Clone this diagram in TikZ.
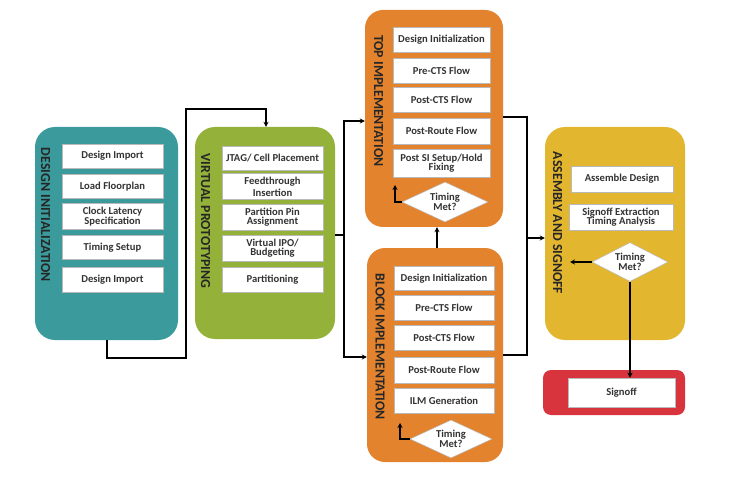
\documentclass[tikz,border=0pt]{standalone}
\usepackage{fontspec}
\setmainfont{Carlito}
\usetikzlibrary{shapes.geometric,arrows.meta}
\definecolor{cteal}{HTML}{3B9A9C}
\definecolor{cgreen}{HTML}{94B23A}
\definecolor{corange}{HTML}{E4832E}
\definecolor{cyellow}{HTML}{E3B630}
\definecolor{cred}{HTML}{D8343E}
\definecolor{ctext}{HTML}{333333}
\tikzset{
  stage/.style={rounded corners=20pt, draw=none},
  ibox/.style={draw=gray!55, fill=white, line width=0.5pt, align=center,
    font=\bfseries\fontsize{10.6}{9.5}\selectfont, text=ctext, inner sep=1pt},
  dbox/.style={diamond, draw=gray!55, fill=white, line width=0.5pt, align=center,
    font=\bfseries\fontsize{10.6}{9.5}\selectfont, text=ctext, inner sep=1pt, aspect=2.2},
  ttl/.style={rotate=-90, font=\bfseries\fontsize{13.8}{14}\selectfont, text=black!85},
  conn/.style={draw=black, line width=1.3pt},
  arr/.style={conn, -{Stealth[length=5pt,width=5pt]}},
}
\begin{document}
\begin{tikzpicture}[x=1pt,y=-1pt]
\useasboundingbox (0,0) rectangle (730,478);
% stage boxes
\path[stage, fill=cteal] (35,127) rectangle (178,340);
\node[inner sep=0, minimum width=143pt, minimum height=213pt] (di) at (106.5,233.5) {};
\path[stage, fill=cgreen] (195,127) rectangle (335,339);
\node[inner sep=0, minimum width=140pt, minimum height=212pt] (vp) at (265,233) {};
\path[stage, fill=corange, rounded corners=18pt] (365,10) rectangle (503,227);
\node[inner sep=0, minimum width=138pt, minimum height=217pt] (top) at (434,118.5) {};
\path[stage, fill=corange, rounded corners=18pt] (367,248) rectangle (503,462);
\node[inner sep=0, minimum width=136pt, minimum height=214pt] (blk) at (435,355) {};
\path[stage, fill=cyellow] (545,127) rectangle (685,340);
\node[inner sep=0, minimum width=140pt, minimum height=213pt] (asm) at (615,233.5) {};
\path[stage, fill=cred, rounded corners=8pt] (543,370) rectangle (685,415);
\node[inner sep=0, minimum width=142pt, minimum height=45pt] (so) at (614,392.5) {};

% titles
\node[ttl] (dit) at (45.5,215) {DESIGN INITIALIZATION};
\node[ttl] (vpt) at (205.5,221) {VIRTUAL PROTOTYPING};
\node[ttl] (topt) at (378.5,101) {TOP IMPLEMENTATION};
\node[ttl] (blkt) at (380,347) {BLOCK IMPLEMENTATION};
\node[ttl] (asmt) at (557.5,223) {ASSEMBLY AND SIGNOFF};

% design initialization
\node[ibox, minimum width=101pt, minimum height=24pt] (d1) at (112.5,156) {Design Import};
\node[ibox, minimum width=101pt, minimum height=24pt] (d2) at (112.5,186.5) {Load Floorplan};
\node[ibox, minimum width=101pt, minimum height=26pt] (d3) at (112.5,216.5) {Clock Latency\\Specification};
\node[ibox, minimum width=101pt, minimum height=24pt] (d4) at (112.5,247.5) {Timing Setup};
\node[ibox, minimum width=101pt, minimum height=25pt] (d5) at (112.5,280) {Design Import};

% virtual prototyping
\node[ibox, minimum width=101pt, minimum height=24pt] (v1) at (272.5,158) {JTAG/ Cell Placement};
\node[ibox, minimum width=101pt, minimum height=26pt, font=\bfseries\fontsize{10.6}{12}\selectfont] (v2) at (272.5,186.5) {Feedthrough\\Insertion};
\node[ibox, minimum width=101pt, minimum height=26pt] (v3) at (272.5,217) {Partition Pin\\Assignment};
\node[ibox, minimum width=101pt, minimum height=26pt] (v4) at (272.5,248) {Virtual IPO/\\Budgeting};
\node[ibox, minimum width=101pt, minimum height=25pt] (v5) at (272.5,280) {Partitioning};

% top implementation
\node[ibox, minimum width=97pt, minimum height=25pt] (t1) at (441.5,40) {Design Initialization};
\node[ibox, minimum width=97pt, minimum height=25pt] (t2) at (441.5,70.5) {Pre-CTS Flow};
\node[ibox, minimum width=97pt, minimum height=25pt] (t3) at (441.5,100) {Post-CTS Flow};
\node[ibox, minimum width=97pt, minimum height=26pt] (t4) at (441.5,131) {Post-Route Flow};
\node[ibox, minimum width=97pt, minimum height=28pt] (t5) at (441.5,163) {Post SI Setup/Hold\\Fixing};
\node[dbox, minimum width=86pt, minimum height=40pt] (td) at (445,202) {Timing\\Met?};

% block implementation
\node[ibox, minimum width=100pt, minimum height=24pt] (b1) at (444,278.5) {Design Initialization};
\node[ibox, minimum width=100pt, minimum height=25pt] (b2) at (444,307.5) {Pre-CTS Flow};
\node[ibox, minimum width=100pt, minimum height=25pt] (b3) at (444,337.5) {Post-CTS Flow};
\node[ibox, minimum width=100pt, minimum height=26pt] (b4) at (444,370) {Post-Route Flow};
\node[ibox, minimum width=100pt, minimum height=25pt] (b5) at (444,400.5) {ILM Generation};
\node[dbox, minimum width=82pt, minimum height=38pt] (bd) at (451,439) {Timing\\Met?};

% assembly and signoff
\node[ibox, minimum width=102pt, minimum height=26pt] (a1) at (622,179) {Assemble Design};
\node[ibox, minimum width=104pt, minimum height=26pt] (a2) at (621,217) {Signoff Extraction\\Timing Analysis};
\node[dbox, minimum width=76pt, minimum height=39pt] (ad) at (630,262) {Timing\\Met?};
\node[ibox, minimum width=107pt, minimum height=29pt] (s1) at (621.5,392.5) {Signoff};

% connectors
\coordinate (c1) at (107,358);
\coordinate (c2) at (186,358);
\coordinate (c3) at (186,109);
\coordinate (c4) at (266,109);
\draw[arr] (di.south -| c1) -- (c1) -- (c2) -- (c3) -- (c4) -- (vp.north -| c4);

\coordinate (m1) at (344,235);
\coordinate (m2) at (344,121);
\coordinate (m3) at (344,357);
\draw[conn] (vp.east |- m1) -- (m1);
\draw[arr] (m3) -- (m2) -- (top.west |- m2);
\draw[arr] (m1) -- (m3) -- (blk.west |- m3);

\coordinate (bt) at (437,248);
\draw[arr] (bt) -- (top.south -| bt);

\coordinate (tl) at (395,202);
\draw[arr] (td.west) -- (tl) -- ++(0,-17);
\coordinate (bl) at (400,439);
\draw[arr] (bd.west) -- (bl) -- ++(0,-16);

\coordinate (r1) at (527,117);
\coordinate (r2) at (527,355);
\coordinate (r3) at (527,238);
\draw[conn] (top.east |- r1) -- (r1) -- (r2) -- (blk.east |- r2);
\draw[arr] (r3) -- (asm.west |- r3);

\coordinate (al) at (570,262);
\draw[arr] (ad.west) -- (al);
\draw[arr] (ad.south) -- (s1.north -| ad.south);
\end{tikzpicture}
\end{document}
